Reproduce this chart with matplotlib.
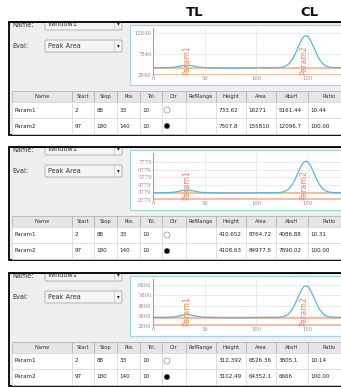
import matplotlib
matplotlib.use("Agg")
import matplotlib.pyplot as plt
from matplotlib.patches import Rectangle, Circle, FancyBboxPatch

W, H = 341, 388

# ---- data ----
titles = ["TL", "CL"]
headers = ["Name", "Start", "Stop", "Pos", "Tol.", "Ctr", "RefRange",
           "Height", "Area", "AbsH", "Ratio"]
param_names = ["Param1", "Param2"]
starts = [2, 97]
stops = [88, 180]
positions = [33, 140]
tolerances = [10, 10]
ctr_selected = [False, True]

heights = [["733.62", "7507.8"], ["410.652", "4108.63"], ["312.392", "3102.49"]]
areas = [["16271", "155810"], ["8764.72", "84977.5"], ["6526.36", "64352.1"]]
abs_heights = [["5161.44", "12096.7"], ["4086.88", "7890.02"], ["3805.1", "6666"]]
ratios = [["10.44", "100.00"], ["10.31", "100.00"], ["10.14", "100.00"]]

y_ticks = [[2840, 7840, 12840],
           [2779, 3779, 4779, 5779, 6779, 7779],
           [2806, 3806, 4806, 5806, 6806]]
y_limits = [(2840, 13900), (2779, 8960), (2806, 7400)]
x_ticks = [0, 50, 100, 150]
param_label_x = [33, 146]

signal_x = [0, 10, 18, 22, 26, 30, 33, 36, 40, 44, 48, 55, 65, 75, 85, 95,
            105, 112, 118, 123, 127, 131, 135, 138, 141, 144, 146, 148, 150,
            152, 155, 158, 161, 164, 167, 171, 176, 182]
signal_y = [
    [4550, 4550, 4610, 4730, 4920, 5105, 5160, 5105, 4920, 4730, 4610, 4555,
     4500, 4460, 4470, 4510, 4540, 4560, 4557, 4607, 4790, 5340, 6570, 8010,
     9700, 11210, 11870, 12100, 11870, 11210, 9700, 8010, 6570, 5570, 5000,
     4670, 4567, 4555],
    [3740, 3740, 3775, 3840, 3955, 4058, 4090, 4058, 3955, 3840, 3775, 3745,
     3720, 3700, 3705, 3720, 3735, 3740, 3744, 3772, 3873, 4176, 4848, 5641,
     6570, 7400, 7762, 7890, 7762, 7400, 6570, 5641, 4848, 4300, 3987, 3806,
     3749, 3742],
    [3640, 3640, 3668, 3721, 3811, 3895, 3920, 3895, 3811, 3721, 3668, 3643,
     3625, 3610, 3612, 3625, 3635, 3640, 3643, 3664, 3740, 3967, 4470, 5064,
     5761, 6383, 6654, 6750, 6654, 6383, 5761, 5064, 4470, 4060, 3825, 3690,
     3647, 3642],
]
baseline_levels = [4500, 3715, 3620]
floor_levels = [2950, 2845, 2855]

# ---- layout (pixels) ----
panel_tops = [22, 147, 273]
col_edges = [12, 72, 94, 117, 140, 162, 186, 216, 246, 276, 308, 350]

BLUE = "#5cb6d8"
ORANGE = "#f4ab8a"
ORANGE_TXT = "#f0875a"

fig = plt.figure(figsize=(W / 100, H / 100), dpi=100)
bg = fig.add_axes([0, 0, 1, 1])
bg.set_xlim(0, W)
bg.set_ylim(H, 0)
bg.axis("off")

for x, label in zip([195, 309], titles):
    bg.text(x, 13, label, ha="center", va="center", fontsize=9.5,
            fontweight="bold", color="#111111", zorder=8)

for i, t in enumerate(panel_tops):
    bg.add_patch(Rectangle((9, t), 345, 113, fc="#efefef", ec="black",
                           lw=1.3, zorder=1))

    # controls on the left (top row is cut off by the screenshot crop)
    bg.text(12, t + 3, "Name:", fontsize=4.7, color="#333333",
            va="center", ha="left", zorder=3)
    for y0, label in [(t - 4, "Window1"), (t + 18, "Peak Area")]:
        bg.add_patch(FancyBboxPatch((45, y0), 77, 12,
                                    boxstyle="round,pad=0,rounding_size=1.5",
                                    fc="#f5f5f5", ec="#a8a8a8", lw=0.6,
                                    zorder=2))
        bg.plot([114, 114], [y0 + 1, y0 + 11], color="#c8c8c8", lw=0.5,
                zorder=3)
        bg.text(118, y0 + 6, "\u25be", fontsize=4, color="#222222",
                ha="center", va="center", zorder=3)
        bg.text(48, y0 + 6, label, fontsize=4.7, color="#333333",
                ha="left", va="center", zorder=3)
    bg.text(12, t + 24, "Eval:", fontsize=4.7, color="#333333",
            va="center", ha="left", zorder=3)
    # crop edge: white above the panel, then the frame's top line again
    bg.add_patch(Rectangle((0, t - 9), W, 9, fc="white", ec="none",
                           zorder=5))
    bg.plot([9, W], [t, t], color="black", lw=1.3, zorder=6)

    # chart box
    bg.add_patch(Rectangle((130, t + 3), 230, 60, fc="white",
                           ec="#a6d3e6", lw=0.9, zorder=2))

    # table header
    for c in range(len(headers)):
        x0, x1 = col_edges[c], col_edges[c + 1]
        bg.add_patch(Rectangle((x0, t + 69), x1 - x0, 11, fc="#e6e6e6",
                               ec="#b5b5b5", lw=0.6, zorder=2))
        bg.text((x0 + x1) / 2, t + 74.5, headers[c], fontsize=3.7,
                color="#333333", ha="center", va="center", zorder=3)

    # table rows
    for r in range(2):
        y0 = t + 80 + r * 16
        cells = [param_names[r], str(starts[r]), str(stops[r]),
                 str(positions[r]), str(tolerances[r]), None, "",
                 heights[i][r], areas[i][r], abs_heights[i][r], ratios[i][r]]
        for c, val in enumerate(cells):
            x0, x1 = col_edges[c], col_edges[c + 1]
            bg.add_patch(Rectangle((x0, y0), x1 - x0, 16, fc="white",
                                   ec="#dadada", lw=0.5, zorder=2))
            if val is None:
                if ctr_selected[r]:
                    bg.add_patch(Circle((167, y0 + 8), 2.6, fc="black",
                                        ec="#555555", lw=0.5, zorder=3))
                else:
                    bg.add_patch(Circle((167, y0 + 8), 3, fc="white",
                                        ec="#a0a0a0", lw=0.6, zorder=3))
            elif val:
                bg.text(x0 + 2.5, y0 + 8, val, fontsize=4.1, color="#222222",
                        ha="left", va="center", zorder=3)

    # chart axes
    top, bottom = t + 6, t + 53
    ax = fig.add_axes([153 / W, 1 - bottom / H, (W - 153) / W, (bottom - top) / H])
    ax.patch.set_alpha(0)
    ax.set_xlim(0, 182)
    ax.set_ylim(*y_limits[i])
    ax.set_xticks(x_ticks)
    ax.set_yticks(y_ticks[i])
    ax.grid(True, color="#e3e3e3", lw=0.5)
    ax.set_axisbelow(True)
    for s in ["top", "right", "bottom"]:
        ax.spines[s].set_visible(False)
    ax.spines["left"].set_color("#c78ac7")
    ax.spines["left"].set_linewidth(0.8)
    ax.tick_params(length=0, labelsize=3.8, labelcolor="#8c8c8c", pad=1)
    for lbl in ax.get_xticklabels() + ax.get_yticklabels():
        lbl.set_fontfamily("DejaVu Serif")

    ax.axhline(baseline_levels[i], color=ORANGE, lw=1.1, zorder=2)
    ax.axhline(floor_levels[i], color=ORANGE, lw=1.1, zorder=2)
    ax.plot(signal_x, signal_y[i], color=BLUE, lw=0.9, zorder=3)
    for px, name in zip(param_label_x, param_names):
        ax.text(px, y_limits[i][0], name, rotation=90, fontsize=5.6,
                color=ORANGE_TXT, ha="center", va="bottom", zorder=4)

fig.savefig("out.png", dpi=100)
